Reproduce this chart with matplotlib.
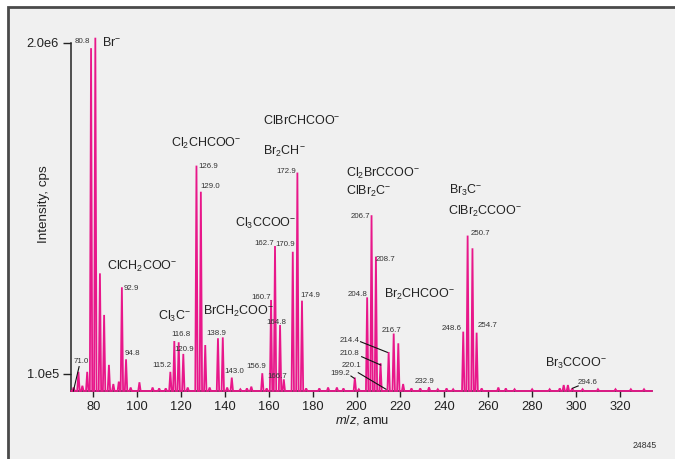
import matplotlib
matplotlib.use("Agg")
import matplotlib.pyplot as plt
from matplotlib import font_manager
from matplotlib.patches import Rectangle

names = {f.name for f in font_manager.fontManager.ttflist}
NARROW = "Liberation Sans Narrow" in names
FONT = "Liberation Sans Narrow" if NARROW else "Liberation Sans"
plt.rcParams["font.family"] = [FONT, "DejaVu Sans"]
plt.rcParams["mathtext.fontset"] = "custom"
plt.rcParams["mathtext.rm"] = FONT
plt.rcParams["mathtext.it"] = FONT + ":italic"

PINK = "#e8178a"
GREY = "#333333"
BIG = 10.5 if NARROW else 9.0
SMALL = 6.5 if NARROW else 5.7

# peak list: m/z and intensity (cps)
peak_mz = [71.0, 73.2, 75.0, 77.2, 78.95, 80.9, 83.0, 84.9, 87.1, 89.1, 91.6, 93.0, 94.9,
           97.0, 101.0, 107.0, 110.0, 113.0, 115.1, 116.9, 118.9, 121.0, 123.0, 127.0, 129.0,
           131.0, 133.0, 136.8, 139.0, 141.0, 143.1, 147.0, 150.0, 152.0, 157.0, 159.0, 161.0,
           162.8, 165.1, 166.8, 170.9, 173.0, 175.1, 177.0, 183.0, 187.0, 191.0, 194.0, 199.2,
           201.0, 204.8, 206.8, 208.8, 210.9, 214.6, 216.9, 219.0, 221.2, 225.0, 229.0, 233.0,
           237.0, 241.0, 244.0, 248.6, 250.6, 252.8, 254.7, 257.0, 264.6, 268.0, 272.0, 280.0,
           288.0, 292.6, 294.4, 296.3, 298.3, 303.0, 310.0, 318.0, 325.0, 331.0]
peak_int = [2e4, 1.1e5, 3e4, 1.1e5, 1.97e6, 2.03e6, 6.76e5, 4.37e5, 1.5e5, 4e4, 5.4e4, 5.96e5, 1.82e5,
            2e4, 5e4, 2e4, 1.5e4, 1.5e4, 1.1e5, 2.87e5, 2.8e5, 2.13e5, 2e4, 1.295e6, 1.145e6,
            2.64e5, 2e4, 3.03e5, 3.08e5, 2e4, 7.7e4, 1e4, 1.5e4, 2.5e4, 1.02e5, 1.5e4, 5.23e5,
            8.33e5, 3.79e5, 6.7e4, 8.0e5, 1.255e6, 5.19e5, 1.5e4, 1.5e4, 2e4, 2e4, 1.5e4, 7.7e4,
            1e4, 5.38e5, 1.01e6, 7.72e5, 1.6e5, 2.24e5, 3.3e5, 2.74e5, 4e4, 1.5e4, 1.5e4, 2.1e4,
            1e4, 1.5e4, 1e4, 3.41e5, 8.93e5, 8.2e5, 3.35e5, 1.5e4, 2e4, 1.5e4, 1e4, 1e4,
            1e4, 1.5e4, 3.4e4, 3.4e4, 1.5e4, 1e4, 1e4, 1e4, 1e4, 1e4]

# ion names: text, m/z and intensity of the left edge
ion_text = [r"Br$^{-}$", r"Cl$_2$CHCOO$^{-}$", r"ClCH$_2$COO$^{-}$", r"Cl$_3$C$^{-}$",
            r"BrCH$_2$COO$^{-}$", r"ClBrCHCOO$^{-}$", r"Br$_2$CH$^{-}$", r"Cl$_3$CCOO$^{-}$",
            r"Cl$_2$BrCCOO$^{-}$", r"ClBr$_2$C$^{-}$", r"Br$_2$CHCOO$^{-}$", r"Br$_3$C$^{-}$",
            r"ClBr$_2$CCOO$^{-}$", r"Br$_3$CCOO$^{-}$"]
ion_mz = [83.8, 115.4, 86.1, 109.6, 130.1, 157.5, 157.5, 144.6, 195.0, 195.0, 212.5, 242.1,
          241.8, 285.8]
ion_y = [2.0e6, 1.425e6, 7.18e5, 4.27e5, 4.56e5, 1.557e6, 1.375e6, 9.6e5, 1.251e6, 1.145e6,
         5.52e5, 1.151e6, 1.03e6, 1.59e5]

# peak value labels
num_text = ["80.8", "126.9", "129.0", "92.9", "94.8", "71.0", "115.2", "116.8", "120.9",
            "138.9", "143.0", "156.9", "172.9", "162.7", "170.9", "174.9", "160.7", "164.8",
            "166.7", "206.7", "208.7", "204.8", "216.7", "214.4", "210.8", "220.1", "199.2",
            "232.9", "250.7", "248.6", "254.7", "294.6"]
num_mz = [78.5, 127.8, 128.6, 94.0, 94.1, 70.9, 115.7, 115.4, 116.9, 131.7, 139.6, 149.6,
          172.4, 153.4, 163.1, 174.2, 151.9, 158.9, 159.3, 197.3, 208.8, 195.7, 211.4, 201.5,
          201.5, 202.3, 197.0, 226.6, 252.0, 247.9, 255.4, 300.9]
num_y = [2.01e6, 1.289e6, 1.174e6, 5.9e5, 2.17e5, 1.68e5, 1.45e5, 3.22e5, 2.4e5, 3.28e5,
         1.11e5, 1.4e5, 1.26e6, 8.49e5, 8.39e5, 5.46e5, 5.38e5, 3.95e5, 8.6e4, 1.0e6, 7.53e5,
         5.57e5, 3.5e5, 2.89e5, 2.13e5, 1.49e5, 9.8e4, 5.3e4, 9.06e5, 3.6e5, 3.75e5, 5e4]
num_ha = ["right", "left", "left", "left", "left", "left", "right", "left", "left",
          "left", "left", "left", "right", "left", "left", "left", "left", "left",
          "left", "left", "left", "left", "left", "right", "right", "right", "right",
          "left", "left", "right", "left", "left"]

# leader lines: m/z start, y start, m/z end, y end
leaders = [(73.5, 1.4e5, 70.9, 0.0),
           (201.8, 2.83e5, 214.0, 2.22e5),
           (202.3, 1.97e5, 211.0, 1.49e5),
           (200.75, 1.05e5, 213.4, 1e4),
           (197.4, 8.6e4, 198.9, 7.3e4),
           (301.0, 2.9e4, 298.4, 1.55e4)]

x_ticks = list(range(80, 321, 20))
y_ticks = [1.0e5, 2.0e6]
y_tick_labels = ["1.0e5", "2.0e6"]

fig = plt.figure(figsize=(6.75, 4.59), dpi=100, facecolor="white")
fig.patches.append(Rectangle((8 / 675, -0.1), 1.1, 1 - 7 / 459 + 0.1, transform=fig.transFigure,
                             facecolor="#f0f0f0", edgecolor="#4a4a4a", lw=2, zorder=-10))
ax = fig.add_axes([0.1058, 0.1482, 0.860, 0.781])
ax.set_facecolor("none")

# spectrum drawn as narrow spikes joined along the baseline
hw = 0.55
xs, ys = [70.0], [0.0]
for m, v in sorted(zip(peak_mz, peak_int)):
    xs += [m - hw, m, m + hw]
    ys += [0.0, v, 0.0]
xs.append(334.6)
ys.append(0.0)
ax.plot(xs, ys, color=PINK, lw=1.3, solid_joinstyle="miter", zorder=3, clip_on=False)

ax.set_xlim(70, 334.6)
ax.set_ylim(0, 2.06e6)
for s in ["top", "right"]:
    ax.spines[s].set_visible(False)
ax.spines["left"].set_bounds(0, 2.0e6)
for s in ["left", "bottom"]:
    ax.spines[s].set_color("#222222")
    ax.spines[s].set_linewidth(1.1)

ax.set_xticks(x_ticks)
ax.set_yticks(y_ticks)
ax.set_yticklabels(y_tick_labels)
ax.tick_params(axis="x", direction="out", length=4, width=1, pad=3, labelsize=BIG + 0.3, colors="#222222")
ax.tick_params(axis="y", direction="out", length=6, width=1, pad=3, labelsize=BIG + 0.3, colors="#222222")

ax.set_xlabel(r"$m/z$, amu", fontsize=BIG + 0.3, color="#222222", labelpad=0)
ax.set_ylabel("Intensity, cps", fontsize=BIG + 0.7, color="#222222")
ax.yaxis.set_label_coords(-0.037, 0.52)

for t, m, v in zip(ion_text, ion_mz, ion_y):
    ax.text(m, v, t, fontsize=BIG, color="#222222", ha="left", va="center")

for t, m, v, h in zip(num_text, num_mz, num_y, num_ha):
    ax.text(m, v, t, fontsize=SMALL, color=GREY, ha=h, va="center")

for x0, y0, x1, y1 in leaders:
    ax.plot([x0, x1], [y0, y1], color="#111111", lw=0.8, zorder=4, clip_on=False)

fig.text(645 / 675, 1 - 446 / 459, "24845", fontsize=SMALL + 0.5, color=GREY, ha="center", va="center")

fig.savefig("out.png", dpi=100, facecolor=fig.get_facecolor())
